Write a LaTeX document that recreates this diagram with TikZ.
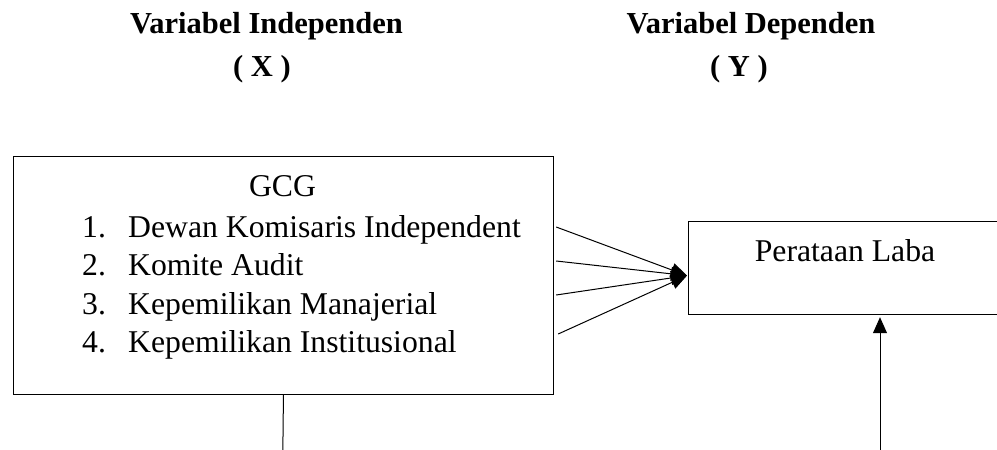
\documentclass[tikz,border=0pt]{standalone}
\usepackage{fontspec}
\setmainfont{Liberation Serif}
\usetikzlibrary{arrows.meta}
\begin{document}
\begin{tikzpicture}[x=1pt,y=-1pt,
  boxstyle/.style={draw=black,line width=1.2pt,fill=white,inner sep=0pt},
  titletext/.style={inner sep=0pt,anchor=base,font=\fontsize{30.5}{36}\selectfont\bfseries},
  bodytext/.style={inner sep=0pt,font=\fontsize{31.7}{38}\selectfont},
  conn/.style={draw=black,line width=1pt},
  arr/.style={conn,-{Triangle[length=16pt,width=14pt]}}]
\useasboundingbox (0,0) rectangle (997,450);
\fill[white] (0,0) rectangle (997,450);
% titles
\node[titletext] (tx1) at (266.5,33) {Variabel Independen};
\node[titletext] (tx2) at (262,76) {( X )};
\node[titletext] (ty1) at (751,33) {Variabel Dependen};
\node[titletext] (ty2) at (739,76) {( Y )};
% left box
\node[boxstyle,anchor=north west,minimum width=540.3pt,minimum height=238pt] (gcg) at (12.7,156) {};
\node[bodytext,anchor=base] (gcgt) at (282.5,196) {GCG};
\node[bodytext,anchor=base west] (n1) at (82,237) {1.};
\node[bodytext,anchor=base west] (t1) at (128,237) {Dewan Komisaris Independent};
\node[bodytext,anchor=base west] (n2) at (82,275) {2.};
\node[bodytext,anchor=base west] (t2) at (128,275) {Komite Audit};
\node[bodytext,anchor=base west] (n3) at (82,314) {3.};
\node[bodytext,anchor=base west] (t3) at (128,314) {Kepemilikan Manajerial};
\node[bodytext,anchor=base west] (n4) at (82,352) {4.};
\node[bodytext,anchor=base west] (t4) at (128,352) {Kepemilikan Institusional};
% right box
\node[boxstyle,anchor=north west,minimum width=312pt,minimum height=93pt] (laba) at (688,221) {};
\node[bodytext,anchor=base] (labat) at (845,261) {Perataan Laba};
% connector end points
\coordinate (s1) at ([shift={(2,71)}]gcg.north east);
\coordinate (s2) at ([shift={(2,105)}]gcg.north east);
\coordinate (s3) at ([shift={(2,139)}]gcg.north east);
\coordinate (s4) at ([shift={(4,178)}]gcg.north east);
\coordinate (tip) at ([shift={(-1,7.5)}]laba.west);
\coordinate (gb) at (282.85,450);
\coordinate (lb) at (880,450);
% connectors
\draw[arr] (s1) -- (tip);
\draw[arr] (s2) -- (tip);
\draw[arr] (s3) -- (tip);
\draw[arr] (s4) -- (tip);
\draw[conn] (gcg.south) -- (gb);
\draw[arr,shorten >=2pt] (lb) -- (lb |- laba.south);
\end{tikzpicture}
\end{document}
